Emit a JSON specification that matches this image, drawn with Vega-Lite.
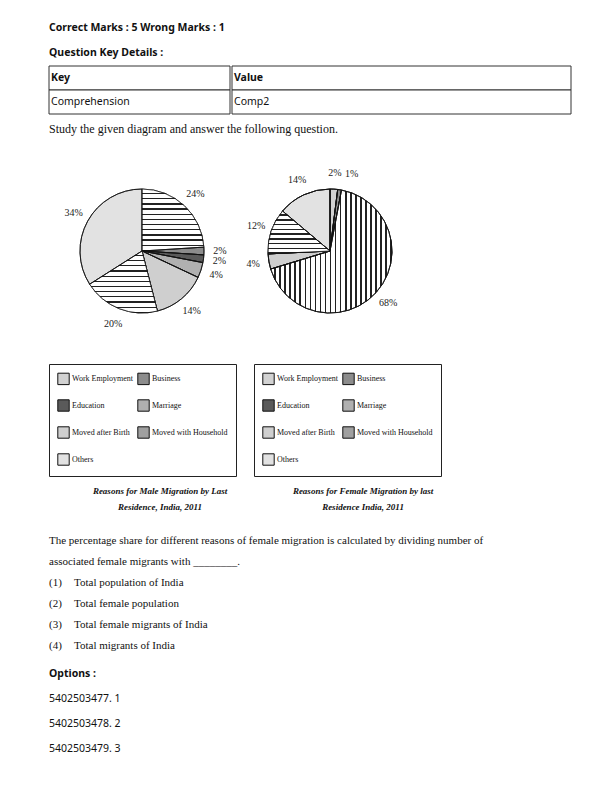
{
  "$schema": "https://vega.github.io/schema/vega-lite/v6.json",
  "padding": {"left": 48, "top": 15, "right": 0, "bottom": 0},
  "background": "white",
  "config": {"view": {"stroke": null}, "concat": {"spacing": 0}},
  "datasets": {
    "header": [
      {"line": 1, "text": "Correct Marks : 5 Wrong Marks : 1"},
      {"line": 2, "text": "Question Key Details :"}
    ],
    "table": [
      {"col": "Key", "row": 1, "text": "Key"},
      {"col": "Key", "row": 2, "text": "Comprehension"},
      {"col": "Value", "row": 1, "text": "Value"},
      {"col": "Value", "row": 2, "text": "Comp2"}
    ],
    "study": [{"line": 1, "text": "Study the given diagram and answer the following question."}],
    "male": [
      {"ord": 1, "reason": "Work Employment", "pct": 24, "label": "24%"},
      {"ord": 2, "reason": "Business", "pct": 2, "label": "2%"},
      {"ord": 3, "reason": "Education", "pct": 2, "label": "2%"},
      {"ord": 4, "reason": "Marriage", "pct": 4, "label": "4%"},
      {"ord": 5, "reason": "Moved after Birth", "pct": 14, "label": "14%"},
      {"ord": 6, "reason": "Moved with Household", "pct": 20, "label": "20%"},
      {"ord": 7, "reason": "Others", "pct": 34, "label": "34%"}
    ],
    "female": [
      {"ord": 1, "reason": "Work Employment", "pct": 2, "label": "2%"},
      {"ord": 2, "reason": "Business", "pct": 1, "label": "1%"},
      {"ord": 4, "reason": "Marriage", "pct": 68, "label": "68%"},
      {"ord": 5, "reason": "Moved after Birth", "pct": 4, "label": "4%"},
      {"ord": 6, "reason": "Moved with Household", "pct": 12, "label": "12%"},
      {"ord": 7, "reason": "Others", "pct": 14, "label": "14%"}
    ],
    "question": [
      {"line": 1, "kind": "p", "num": "", "text": "The percentage share for different reasons of female migration is calculated by dividing number of"},
      {"line": 2, "kind": "p", "num": "", "text": "associated female migrants with ________."},
      {"line": 3, "kind": "o", "num": "(1)", "text": "Total population of India"},
      {"line": 4, "kind": "o", "num": "(2)", "text": "Total female population"},
      {"line": 5, "kind": "o", "num": "(3)", "text": "Total female migrants of India"},
      {"line": 6, "kind": "o", "num": "(4)", "text": "Total migrants of India"}
    ],
    "options": [
      {"line": 1, "bold": true, "text": "Options :"},
      {"line": 2, "bold": false, "text": "5402503477. 1"},
      {"line": 3, "bold": false, "text": "5402503478. 2"},
      {"line": 4, "bold": false, "text": "5402503479. 3"}
    ]
  },
  "vconcat": [
    {
      "width": 522, "height": 50,
      "data": {"name": "header"},
      "mark": {"type": "text", "align": "left", "baseline": "middle", "font": "Noto Sans", "fontWeight": "bold", "fontSize": 10.5, "color": "#111"},
      "encoding": {
        "x": {"value": 0},
        "y": {"field": "line", "type": "ordinal", "axis": null},
        "text": {"field": "text"}
      }
    },
    {
      "hconcat": [
        {
          "width": 181, "height": 48,
          "data": {"name": "table"},
          "transform": [{"filter": "datum.col === 'Key'"}],
          "encoding": {"y": {"field": "row", "type": "ordinal", "axis": null, "scale": {"paddingInner": 0, "paddingOuter": 0}}},
          "layer": [
            {"mark": {"type": "rect", "fill": "white", "stroke": "#333", "strokeWidth": 1}},
            {"transform": [{"filter": "datum.row === 1"}], "mark": {"type": "text", "align": "left", "font": "Noto Sans", "fontWeight": "bold", "fontSize": 10.5, "color": "#111"}, "encoding": {"x": {"value": 2}, "text": {"field": "text"}}},
            {"transform": [{"filter": "datum.row === 2"}], "mark": {"type": "text", "align": "left", "font": "Noto Sans", "fontSize": 10.5, "color": "#111"}, "encoding": {"x": {"value": 2}, "text": {"field": "text"}}}
          ]
        },
        {
          "width": 339, "height": 48,
          "data": {"name": "table"},
          "transform": [{"filter": "datum.col === 'Value'"}],
          "encoding": {"y": {"field": "row", "type": "ordinal", "axis": null, "scale": {"paddingInner": 0, "paddingOuter": 0}}},
          "layer": [
            {"mark": {"type": "rect", "fill": "white", "stroke": "#333", "strokeWidth": 1}},
            {"transform": [{"filter": "datum.row === 1"}], "mark": {"type": "text", "align": "left", "font": "Noto Sans", "fontWeight": "bold", "fontSize": 10.5, "color": "#111"}, "encoding": {"x": {"value": 2}, "text": {"field": "text"}}},
            {"transform": [{"filter": "datum.row === 2"}], "mark": {"type": "text", "align": "left", "font": "Noto Sans", "fontSize": 10.5, "color": "#111"}, "encoding": {"x": {"value": 2}, "text": {"field": "text"}}}
          ]
        }
      ]
    },
    {
      "width": 522, "height": 28,
      "data": {"name": "study"},
      "mark": {"type": "text", "align": "left", "baseline": "middle", "font": "Liberation Serif", "fontSize": 12, "color": "#111"},
      "encoding": {
        "x": {"value": 0},
        "y": {"field": "line", "type": "ordinal", "axis": null},
        "text": {"field": "text"}
      }
    },
    {
      "spacing": 18,
      "vconcat": [
        {
          "spacing": 9,
          "hconcat": [
            {
              "width": 186, "height": 216,
              "data": {"name": "male"},
              "title": {"text": ["Reasons for Male Migration by Last", "Residence, India, 2011"], "orient": "bottom", "font": "Liberation Serif", "fontStyle": "italic", "fontWeight": "bold", "fontSize": 9, "anchor": "middle", "offset": 10, "lineHeight": 16, "dx": 18, "color": "#111"},
              "encoding": {
                "theta": {"field": "pct", "type": "quantitative", "stack": true},
                "order": {"field": "ord", "type": "quantitative"}
              },
              "layer": [
                {
                  "mark": {"type": "arc", "outerRadius": 62, "stroke": "#111", "strokeWidth": 0.8},
                  "encoding": {
                    "color": {
                      "field": "reason", "type": "nominal",
                      "scale": {"domain": ["Work Employment", "Business", "Education", "Marriage", "Moved after Birth", "Moved with Household", "Others"], "range": ["#d2d2d2", "#8c8c8c", "#5a5a5a", "#b0b0b0", "#cfcfcf", "#a0a0a0", "#e2e2e2"]},
                      "legend": {"title": null, "orient": "bottom", "columns": 2, "gridAlign": "each", "symbolType": "square", "symbolSize": 130, "symbolStrokeColor": "#111", "symbolStrokeWidth": 1, "labelFont": "Liberation Serif", "labelFontSize": 8, "labelColor": "#111", "labelOffset": 2, "rowPadding": 10, "columnPadding": 2, "padding": 8, "strokeColor": "#222", "offset": 5, "labelLimit": 200}
                    }
                  }
                },
                {
                  "mark": {"type": "arc", "outerRadius": 62, "stroke": "#111", "strokeWidth": 0.8},
                  "encoding": {
                    "fill": {
                      "condition": {"test": "datum.reason === 'Work Employment' || datum.reason === 'Moved with Household'", "value": {"gradient": "linear", "x1": 0, "x2": 0, "y1": 0, "y2": 1, "stops": [
                        {"offset": 0, "color": "#fff"}, {"offset": 0.0625, "color": "#fff"}, {"offset": 0.0625, "color": "#222"}, {"offset": 0.0833, "color": "#222"},
                        {"offset": 0.0833, "color": "#fff"}, {"offset": 0.1458, "color": "#fff"}, {"offset": 0.1458, "color": "#222"}, {"offset": 0.1667, "color": "#222"},
                        {"offset": 0.1667, "color": "#fff"}, {"offset": 0.2292, "color": "#fff"}, {"offset": 0.2292, "color": "#222"}, {"offset": 0.25, "color": "#222"},
                        {"offset": 0.25, "color": "#fff"}, {"offset": 0.3125, "color": "#fff"}, {"offset": 0.3125, "color": "#222"}, {"offset": 0.3333, "color": "#222"},
                        {"offset": 0.3333, "color": "#fff"}, {"offset": 0.3958, "color": "#fff"}, {"offset": 0.3958, "color": "#222"}, {"offset": 0.4167, "color": "#222"},
                        {"offset": 0.4167, "color": "#fff"}, {"offset": 0.4792, "color": "#fff"}, {"offset": 0.4792, "color": "#222"}, {"offset": 0.5, "color": "#222"},
                        {"offset": 0.5, "color": "#fff"}, {"offset": 0.5625, "color": "#fff"}, {"offset": 0.5625, "color": "#222"}, {"offset": 0.5833, "color": "#222"},
                        {"offset": 0.5833, "color": "#fff"}, {"offset": 0.6458, "color": "#fff"}, {"offset": 0.6458, "color": "#222"}, {"offset": 0.6667, "color": "#222"},
                        {"offset": 0.6667, "color": "#fff"}, {"offset": 0.7292, "color": "#fff"}, {"offset": 0.7292, "color": "#222"}, {"offset": 0.75, "color": "#222"},
                        {"offset": 0.75, "color": "#fff"}, {"offset": 0.8125, "color": "#fff"}, {"offset": 0.8125, "color": "#222"}, {"offset": 0.8333, "color": "#222"},
                        {"offset": 0.8333, "color": "#fff"}, {"offset": 0.8958, "color": "#fff"}, {"offset": 0.8958, "color": "#222"}, {"offset": 0.9167, "color": "#222"},
                        {"offset": 0.9167, "color": "#fff"}, {"offset": 0.9792, "color": "#fff"}, {"offset": 0.9792, "color": "#222"}, {"offset": 1, "color": "#222"}
                      ]}},
                      "value": "transparent"
                    }
                  }
                },
                {"mark": {"type": "text", "radius": 78, "font": "Liberation Serif", "fontSize": 10}, "encoding": {"text": {"field": "label"}, "color": {"value": "#222"}}}
              ]
            },
            {
              "width": 152, "height": 216,
              "data": {"name": "female"},
              "title": {"text": ["Reasons for Female Migration by last", "Residence India, 2011"], "orient": "bottom", "font": "Liberation Serif", "fontStyle": "italic", "fontWeight": "bold", "fontSize": 9, "anchor": "middle", "offset": 10, "lineHeight": 16, "dx": 33, "color": "#111"},
              "encoding": {
                "theta": {"field": "pct", "type": "quantitative", "stack": true},
                "order": {"field": "ord", "type": "quantitative"}
              },
              "layer": [
                {
                  "mark": {"type": "arc", "outerRadius": 62, "stroke": "#111", "strokeWidth": 0.8},
                  "encoding": {
                    "color": {
                      "field": "reason", "type": "nominal",
                      "scale": {"domain": ["Work Employment", "Business", "Education", "Marriage", "Moved after Birth", "Moved with Household", "Others"], "range": ["#d2d2d2", "#8c8c8c", "#5a5a5a", "#b0b0b0", "#cfcfcf", "#a0a0a0", "#e2e2e2"]},
                      "legend": {"title": null, "orient": "bottom", "columns": 2, "gridAlign": "each", "symbolType": "square", "symbolSize": 130, "symbolStrokeColor": "#111", "symbolStrokeWidth": 1, "labelFont": "Liberation Serif", "labelFontSize": 8, "labelColor": "#111", "labelOffset": 2, "rowPadding": 10, "columnPadding": 2, "padding": 8, "strokeColor": "#222", "offset": 5, "labelLimit": 200}
                    }
                  }
                },
                {
                  "mark": {"type": "arc", "outerRadius": 62, "stroke": "#111", "strokeWidth": 0.8},
                  "encoding": {
                    "fill": {
                      "condition": {"test": "datum.reason === 'Marriage'", "value": {"gradient": "linear", "x1": 0, "x2": 1, "y1": 0, "y2": 0, "stops": [
                        {"offset": 0, "color": "#fff"}, {"offset": 0.02917, "color": "#fff"}, {"offset": 0.02917, "color": "#222"}, {"offset": 0.04167, "color": "#222"},
                        {"offset": 0.04167, "color": "#fff"}, {"offset": 0.07083, "color": "#fff"}, {"offset": 0.07083, "color": "#222"}, {"offset": 0.08333, "color": "#222"},
                        {"offset": 0.08333, "color": "#fff"}, {"offset": 0.1125, "color": "#fff"}, {"offset": 0.1125, "color": "#222"}, {"offset": 0.125, "color": "#222"},
                        {"offset": 0.125, "color": "#fff"}, {"offset": 0.15417, "color": "#fff"}, {"offset": 0.15417, "color": "#222"}, {"offset": 0.16667, "color": "#222"},
                        {"offset": 0.16667, "color": "#fff"}, {"offset": 0.19583, "color": "#fff"}, {"offset": 0.19583, "color": "#222"}, {"offset": 0.20833, "color": "#222"},
                        {"offset": 0.20833, "color": "#fff"}, {"offset": 0.2375, "color": "#fff"}, {"offset": 0.2375, "color": "#222"}, {"offset": 0.25, "color": "#222"},
                        {"offset": 0.25, "color": "#fff"}, {"offset": 0.27917, "color": "#fff"}, {"offset": 0.27917, "color": "#222"}, {"offset": 0.29167, "color": "#222"},
                        {"offset": 0.29167, "color": "#fff"}, {"offset": 0.32083, "color": "#fff"}, {"offset": 0.32083, "color": "#222"}, {"offset": 0.33333, "color": "#222"},
                        {"offset": 0.33333, "color": "#fff"}, {"offset": 0.3625, "color": "#fff"}, {"offset": 0.3625, "color": "#222"}, {"offset": 0.375, "color": "#222"},
                        {"offset": 0.375, "color": "#fff"}, {"offset": 0.40417, "color": "#fff"}, {"offset": 0.40417, "color": "#222"}, {"offset": 0.41667, "color": "#222"},
                        {"offset": 0.41667, "color": "#fff"}, {"offset": 0.44583, "color": "#fff"}, {"offset": 0.44583, "color": "#222"}, {"offset": 0.45833, "color": "#222"},
                        {"offset": 0.45833, "color": "#fff"}, {"offset": 0.4875, "color": "#fff"}, {"offset": 0.4875, "color": "#222"}, {"offset": 0.5, "color": "#222"},
                        {"offset": 0.5, "color": "#fff"}, {"offset": 0.52917, "color": "#fff"}, {"offset": 0.52917, "color": "#222"}, {"offset": 0.54167, "color": "#222"},
                        {"offset": 0.54167, "color": "#fff"}, {"offset": 0.57083, "color": "#fff"}, {"offset": 0.57083, "color": "#222"}, {"offset": 0.58333, "color": "#222"},
                        {"offset": 0.58333, "color": "#fff"}, {"offset": 0.6125, "color": "#fff"}, {"offset": 0.6125, "color": "#222"}, {"offset": 0.625, "color": "#222"},
                        {"offset": 0.625, "color": "#fff"}, {"offset": 0.65417, "color": "#fff"}, {"offset": 0.65417, "color": "#222"}, {"offset": 0.66667, "color": "#222"},
                        {"offset": 0.66667, "color": "#fff"}, {"offset": 0.69583, "color": "#fff"}, {"offset": 0.69583, "color": "#222"}, {"offset": 0.70833, "color": "#222"},
                        {"offset": 0.70833, "color": "#fff"}, {"offset": 0.7375, "color": "#fff"}, {"offset": 0.7375, "color": "#222"}, {"offset": 0.75, "color": "#222"},
                        {"offset": 0.75, "color": "#fff"}, {"offset": 0.77917, "color": "#fff"}, {"offset": 0.77917, "color": "#222"}, {"offset": 0.79167, "color": "#222"},
                        {"offset": 0.79167, "color": "#fff"}, {"offset": 0.82083, "color": "#fff"}, {"offset": 0.82083, "color": "#222"}, {"offset": 0.83333, "color": "#222"},
                        {"offset": 0.83333, "color": "#fff"}, {"offset": 0.8625, "color": "#fff"}, {"offset": 0.8625, "color": "#222"}, {"offset": 0.875, "color": "#222"},
                        {"offset": 0.875, "color": "#fff"}, {"offset": 0.90417, "color": "#fff"}, {"offset": 0.90417, "color": "#222"}, {"offset": 0.91667, "color": "#222"},
                        {"offset": 0.91667, "color": "#fff"}, {"offset": 0.94583, "color": "#fff"}, {"offset": 0.94583, "color": "#222"}, {"offset": 0.95833, "color": "#222"},
                        {"offset": 0.95833, "color": "#fff"}, {"offset": 0.9875, "color": "#fff"}, {"offset": 0.9875, "color": "#222"}, {"offset": 1, "color": "#222"}
                      ]}},
                      "value": "transparent"
                    }
                  }
                },
                {
                  "mark": {"type": "arc", "outerRadius": 62, "stroke": "#111", "strokeWidth": 0.8},
                  "encoding": {
                    "fill": {
                      "condition": {"test": "datum.reason === 'Moved with Household'", "value": {"gradient": "linear", "x1": 0, "x2": 0, "y1": 0, "y2": 1, "stops": [
                        {"offset": 0, "color": "#fff"}, {"offset": 0.0778, "color": "#fff"}, {"offset": 0.0778, "color": "#222"}, {"offset": 0.1111, "color": "#222"},
                        {"offset": 0.1111, "color": "#fff"}, {"offset": 0.1889, "color": "#fff"}, {"offset": 0.1889, "color": "#222"}, {"offset": 0.2222, "color": "#222"},
                        {"offset": 0.2222, "color": "#fff"}, {"offset": 0.3, "color": "#fff"}, {"offset": 0.3, "color": "#222"}, {"offset": 0.3333, "color": "#222"},
                        {"offset": 0.3333, "color": "#fff"}, {"offset": 0.4111, "color": "#fff"}, {"offset": 0.4111, "color": "#222"}, {"offset": 0.4444, "color": "#222"},
                        {"offset": 0.4444, "color": "#fff"}, {"offset": 0.5222, "color": "#fff"}, {"offset": 0.5222, "color": "#222"}, {"offset": 0.5556, "color": "#222"},
                        {"offset": 0.5556, "color": "#fff"}, {"offset": 0.6333, "color": "#fff"}, {"offset": 0.6333, "color": "#222"}, {"offset": 0.6667, "color": "#222"},
                        {"offset": 0.6667, "color": "#fff"}, {"offset": 0.7444, "color": "#fff"}, {"offset": 0.7444, "color": "#222"}, {"offset": 0.7778, "color": "#222"},
                        {"offset": 0.7778, "color": "#fff"}, {"offset": 0.8556, "color": "#fff"}, {"offset": 0.8556, "color": "#222"}, {"offset": 0.8889, "color": "#222"},
                        {"offset": 0.8889, "color": "#fff"}, {"offset": 0.9667, "color": "#fff"}, {"offset": 0.9667, "color": "#222"}, {"offset": 1, "color": "#222"}
                      ]}},
                      "value": "transparent"
                    }
                  }
                },
                {"mark": {"type": "text", "radius": 78, "font": "Liberation Serif", "fontSize": 10}, "encoding": {"text": {"condition": {"test": "datum.reason === 'Business'", "value": ""}, "field": "label"}, "color": {"value": "#222"}}},
                {"mark": {"type": "text", "radius": 78, "align": "left", "dx": 3, "font": "Liberation Serif", "fontSize": 10}, "encoding": {"text": {"condition": {"test": "datum.reason !== 'Business'", "value": ""}, "field": "label"}, "color": {"value": "#222"}}}
              ]
            }
          ],
          "resolve": {"scale": {"color": "independent", "theta": "independent"}, "legend": {"color": "independent"}}
        },
        {
          "spacing": 4,
          "vconcat": [
            {
              "width": 522, "height": 127,
              "data": {"name": "question"},
              "encoding": {"y": {"field": "line", "type": "ordinal", "axis": null}},
              "layer": [
                {"transform": [{"filter": "datum.kind === 'p'"}], "mark": {"type": "text", "align": "left", "font": "Liberation Serif", "fontSize": 11, "color": "#111"}, "encoding": {"x": {"value": 0}, "text": {"field": "text"}}},
                {"transform": [{"filter": "datum.kind === 'o'"}], "mark": {"type": "text", "align": "left", "font": "Liberation Serif", "fontSize": 11, "color": "#111"}, "encoding": {"x": {"value": 0}, "text": {"field": "num"}}},
                {"transform": [{"filter": "datum.kind === 'o'"}], "mark": {"type": "text", "align": "left", "font": "Liberation Serif", "fontSize": 11, "color": "#111"}, "encoding": {"x": {"value": 25}, "text": {"field": "text"}}}
              ]
            },
            {
              "width": 522, "height": 100,
              "data": {"name": "options"},
              "encoding": {"y": {"field": "line", "type": "ordinal", "axis": null}, "x": {"value": 0}, "text": {"field": "text"}},
              "layer": [
                {"transform": [{"filter": "datum.bold"}], "mark": {"type": "text", "align": "left", "font": "Noto Sans", "fontWeight": "bold", "fontSize": 10.5, "color": "#111"}},
                {"transform": [{"filter": "!datum.bold"}], "mark": {"type": "text", "align": "left", "font": "Noto Sans", "fontSize": 10.5, "color": "#111"}}
              ]
            }
          ]
        }
      ]
    }
  ]
}
